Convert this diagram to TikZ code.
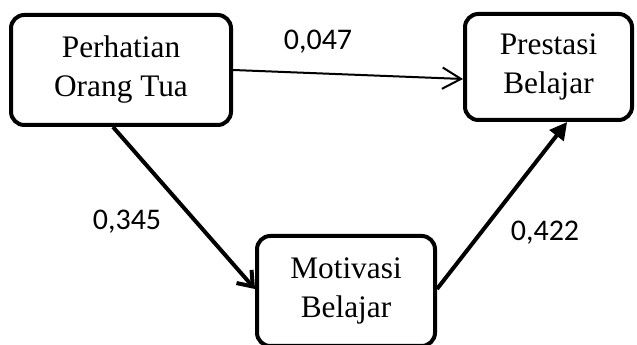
\documentclass[tikz,border=0pt]{standalone}
\usepackage{fontspec}
\setmainfont{Liberation Serif}
\newfontfamily\numfont{Carlito}
\usetikzlibrary{arrows.meta,positioning}

\begin{document}
\begin{tikzpicture}[
    x=0.75pt, y=0.75pt,
    variabel/.style={rectangle, rounded corners=10pt, draw=black, line width=3pt, align=center, inner sep=0pt, font=\fontsize{23.5}{29.25}\selectfont},
    koef/.style={font=\numfont\fontsize{22.5}{27}\selectfont, inner sep=0pt},
    thinarrow/.style={line width=1.5pt, -{Straight Barb[length=14pt, width=16pt, line width=1.5pt]}},
    barbarrow/.style={line width=3pt, -{Straight Barb[length=10pt, width=15pt, line width=3pt]}},
    filledarrow/.style={line width=3pt, -{Triangle[length=13pt, width=13pt]}}
]
\useasboundingbox (0,0) rectangle (637,345);

% variabel
\node (pot) [variabel, minimum width=165pt, minimum height=82.5pt] at (121,275) {Perhatian\\Orang Tua};
\node (pb) [variabel, minimum width=125.25pt, minimum height=79.5pt] at (548.5,278) {Prestasi\\Belajar};
\node (mb) [variabel, minimum width=133.5pt, minimum height=82.5pt] at (346,54) {Motivasi\\Belajar};

% koefisien jalur
\node (kpb) [koef] at (318,303) {0,047};
\node (kmb) [koef] at (127,123) {0,345};
\node (kmp) [koef] at (545,112) {0,422};

% panah
\draw [thinarrow] (pot.east) -- ([yshift=-9pt]pb.west);
\draw [barbarrow] ([xshift=-6pt]pot.south) -- ([yshift=1.5pt]mb.west);
\draw [filledarrow] ([yshift=1.5pt]mb.east) -- ([xshift=14pt]pb.south);

\end{tikzpicture}
\end{document}
